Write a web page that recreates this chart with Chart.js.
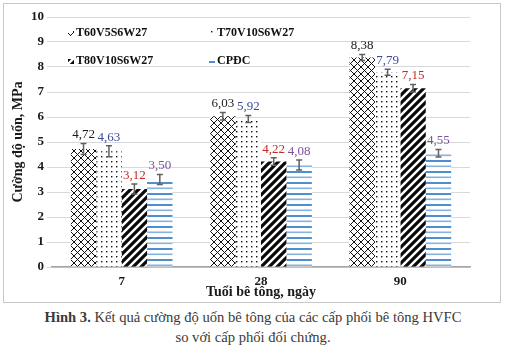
<!DOCTYPE html>
<html><head><meta charset="utf-8">
<script src="https://cdn.jsdelivr.net/npm/chart.js@4.4.0/dist/chart.umd.min.js"></script>
<style>
body{margin:0;background:#fff;width:506px;height:357px;overflow:hidden;position:relative;font-family:"Liberation Serif",serif}
#box{position:absolute;left:3px;top:3px;width:496px;height:298px;border:1px solid #c8c8c8}
#cap{position:absolute;left:0;top:307px;width:506px;text-align:center;font-size:14.6px;line-height:20px;color:#3a3a3a}
</style></head><body>
<div id="box"><canvas id="c" width="496" height="298"></canvas></div>
<div id="cap"><b>Hình 3.</b> Kết quả cường độ uốn bê tông của các cấp phối bê tông HVFC<br>so với cấp phối đối chứng.</div>
<script>
const categories = ['7', '28', '90'];
const seriesNames = ['T60V5S6W27', 'T70V10S6W27', 'T80V10S6W27', 'CPĐC'];
const s1 = [4.72, 6.03, 8.38];
const s2 = [4.63, 5.92, 7.79];
const s3 = [3.12, 4.22, 7.15];
const s4 = [3.50, 4.08, 4.55];
const e1 = [0.22, 0.15, 0.12];
const e2 = [0.22, 0.14, 0.12];
const e3 = [0.20, 0.15, 0.15];
const e4 = [0.20, 0.20, 0.15];
const yTicks = [0,1,2,3,4,5,6,7,8,9,10];

const values = [s1, s2, s3, s4];
const errs = [e1, e2, e3, e4];
const labelColors = ['#1a1a1a', '#3d4a9c', '#c62828', '#7b519d'];

function tile(w, h, draw) {
  const c = document.createElement('canvas'); c.width = w; c.height = h;
  const g = c.getContext('2d'); g.fillStyle = '#fff'; g.fillRect(0, 0, w, h);
  draw(g, w, h);
  return document.createElement('canvas').getContext('2d').createPattern(c, 'repeat');
}
const pCross = tile(7, 7, (g, w, h) => {
  g.strokeStyle = '#111'; g.lineWidth = 1;
  g.beginPath(); g.moveTo(0, 0); g.lineTo(w, h); g.moveTo(0, h); g.lineTo(w, 0); g.stroke();
});
const pDots = tile(5, 5, (g) => { g.fillStyle = '#111'; g.fillRect(2, 2, 1.4, 1.4); });
const pDiag = tile(8, 8, (g, w, h) => {
  g.strokeStyle = '#0a0a0a'; g.lineWidth = 3.2;
  g.beginPath();
  g.moveTo(-w, 2 * h); g.lineTo(2 * w, -h);
  g.moveTo(-2 * w, 2 * h); g.lineTo(w, -h);
  g.moveTo(0, 2 * h); g.lineTo(3 * w, -h);
  g.stroke();
});
const pHor = tile(4, 11, (g) => {
  g.fillStyle = '#4f8fcf'; g.fillRect(0, 2, 4, 2);
  g.fillStyle = '#86b2df'; g.fillRect(0, 7.5, 4, 1.6);
});
const patterns = [pCross, pDots, pDiag, pHor];

const fmt = v => v.toFixed(2).replace('.', ',');

const overlay = {
  id: 'overlay',
  afterDatasetsDraw(chart) {
    const ctx = chart.ctx, y = chart.scales.y;
    chart.data.datasets.forEach((ds, i) => {
      const meta = chart.getDatasetMeta(i);
      meta.data.forEach((el, j) => {
        const v = ds.data[j], e = errs[i][j];
        const yt = y.getPixelForValue(v + e), yb = y.getPixelForValue(v - e);
        ctx.save();
        ctx.strokeStyle = '#606060'; ctx.lineWidth = 1.5;
        ctx.beginPath();
        ctx.moveTo(el.x, yt); ctx.lineTo(el.x, yb);
        ctx.moveTo(el.x - 3, yt); ctx.lineTo(el.x + 3, yt);
        ctx.moveTo(el.x - 3, yb); ctx.lineTo(el.x + 3, yb);
        ctx.stroke();
        ctx.fillStyle = labelColors[i];
        ctx.font = '13px "Liberation Serif"';
        ctx.textAlign = 'center'; ctx.textBaseline = 'bottom';
        ctx.fillText(fmt(v), el.x, yt - 2);
        ctx.restore();
      });
    });
  },
  afterDraw(chart) {
    const ctx = chart.ctx, a = chart.chartArea;
    const pos = [[a.left + 24, a.top + 16], [a.left + 165, a.top + 16], [a.left + 24, a.top + 44], [a.left + 165, a.top + 44]];
    chart.data.datasets.forEach((ds, i) => {
      const [x, yy] = pos[i];
      ctx.save();
      ctx.fillStyle = patterns[i];
      ctx.fillRect(x - 8, yy - 2, 6, 5);
      ctx.fillStyle = '#111';
      ctx.font = 'bold 12px "Liberation Serif"';
      ctx.textAlign = 'left'; ctx.textBaseline = 'middle';
      ctx.fillText(ds.label, x, yy);
      ctx.restore();
    });
  }
};

new Chart(document.getElementById('c'), {
  type: 'bar',
  data: {
    labels: categories,
    datasets: seriesNames.map((n, i) => ({
      label: n, data: values[i], backgroundColor: patterns[i], borderWidth: 0,
      categoryPercentage: 0.73, barPercentage: 1.0
    }))
  },
  options: {
    responsive: false, animation: false,
    layout: { padding: { top: 13, right: 30, bottom: 0, left: 0 } },
    plugins: { legend: { display: false }, tooltip: { enabled: false } },
    scales: {
      x: {
        grid: { display: false, drawTicks: false },
        border: { display: true, color: '#a6a6a6', width: 1.5 },
        ticks: { color: '#1a1a1a', font: { family: 'Liberation Serif', weight: 'bold', size: 13 }, padding: 7 },
        title: { display: true, text: 'Tuổi bê tông, ngày', color: '#1a1a1a', font: { family: 'Liberation Serif', weight: 'bold', size: 14 }, padding: { top: 0, bottom: 1 } },
        afterFit(s) { s.height = 35; }
      },
      y: {
        min: 0, max: 10,
        afterBuildTicks(s) { s.ticks = yTicks.map(v => ({ value: v })); },
        grid: { color: '#d9d9d9', drawTicks: true, tickLength: 5 },
        border: { display: false },
        ticks: { color: '#1a1a1a', font: { family: 'Liberation Serif', weight: 'bold', size: 13 }, padding: 3 },
        title: { display: true, text: 'Cường độ uốn, MPa', color: '#1a1a1a', font: { family: 'Liberation Serif', weight: 'bold', size: 14 }, padding: { top: 6, bottom: 0 } },
        afterFit(s) { s.width = 48; }
      }
    }
  },
  plugins: [overlay]
});
</script>
</body></html>
